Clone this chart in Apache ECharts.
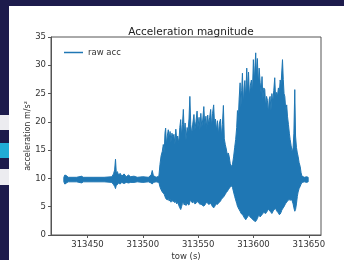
<!DOCTYPE html>
<html>
<head>
<meta charset="utf-8">
<script src="https://cdn.jsdelivr.net/npm/echarts@6/dist/echarts.min.js"></script>
<style>
  html, body { margin: 0; padding: 0; background: #1d1b4c; }
  #chart { width: 344px; height: 260px; }
</style>
</head>
<body>
<div id="chart"></div>
<script>
// time of week (s), with upper / lower envelope of the acceleration trace
var tow = [
  313428.6, 313429.5, 313431.0, 313432.5, 313440, 313445, 313446, 313455, 313465, 313472,
  313473.5, 313474.5, 313475.3, 313476.0, 313477, 313478, 313479.5, 313481, 313483, 313485,
  313487, 313489, 313492, 313495, 313500, 313505, 313507.5, 313508.5, 313509.5, 313512,
  313514.5,
  313515.5, 313516.5, 313517.6, 313518.5, 313519.3, 313520.0, 313520.6, 313521.3, 313522.1, 313523.0,
  313523.8, 313524.6, 313525.4, 313526.3, 313527.2, 313528.1, 313529.0, 313529.8, 313530.6, 313531.5,
  313532.5, 313533.4, 313534.2, 313535.0, 313535.8, 313536.6, 313537.4, 313538.2, 313539.0, 313540.0,
  313540.8, 313541.7, 313542.5, 313543.3, 313544.2, 313545.2, 313546.2, 313547.0, 313548.0, 313549.0,
  313549.8, 313550.8, 313551.6, 313552.4, 313553.3, 313554.2, 313555.1, 313556.0, 313557.0, 313557.8,
  313558.6, 313559.5, 313560.4, 313561.3, 313562.2, 313563.0, 313564.0, 313564.8, 313565.6, 313566.5,
  313567.4, 313568.3, 313569.2, 313570.2, 313571.0, 313571.9, 313572.8, 313573.6, 313574.5, 313575.4,
  313576.3, 313577.2, 313578.0, 313579.0, 313580.0, 313581.0,
  313582.0, 313583.0, 313583.9, 313584.8, 313585.5, 313586.2, 313587.0, 313587.9, 313588.6, 313589.3,
  313590.0, 313590.8, 313591.5, 313592.2, 313593.0, 313593.9, 313594.7, 313595.5, 313596.3, 313597.2,
  313598.1, 313599.0, 313599.9, 313600.7, 313601.4, 313602.0, 313602.7, 313603.5, 313604.3, 313605.1,
  313606.0, 313606.9, 313607.7, 313608.5, 313609.3, 313610.2, 313611.0, 313611.8, 313612.6, 313613.4,
  313614.2, 313615.0, 313615.8, 313616.6, 313617.4, 313618.3, 313619.2, 313620.0, 313620.8, 313621.6,
  313622.5, 313623.3, 313624.1, 313624.9, 313625.6, 313626.2, 313626.9, 313627.6, 313628.3, 313629.2,
  313630.0, 313630.7, 313631.6, 313632.4, 313633.1, 313634.0, 313635.0, 313635.8, 313636.5, 313637.3,
  313638.0, 313638.8, 313639.6, 313640.3, 313641.2, 313642.2, 313643.0, 313643.8, 313646.0, 313648.0,
  313649.4
];
var accHigh = [
  10.2, 10.6, 10.5, 10.2, 10.2, 10.4, 10.2, 10.2, 10.2, 10.3,
  10.8, 11.5, 13.4, 11.0, 11.2, 10.6, 10.9, 10.4, 10.8, 10.3,
  10.6, 10.3, 10.4, 10.2, 10.3, 10.2, 10.6, 11.4, 10.5, 10.2,
  10.4,
  12.5, 14.0, 14.8, 16.0, 14.5, 18.0, 18.9, 16.0, 17.5, 18.6,
  17.0, 18.3, 16.5, 18.0, 17.3, 17.8, 16.0, 18.7, 16.8, 17.5,
  16.2, 19.0, 20.4, 17.5, 19.5, 22.2, 18.0, 19.8, 16.8, 19.0,
  18.2, 20.5, 24.5, 19.5, 17.8, 19.8, 21.3, 18.5, 20.0, 21.9,
  19.0, 20.8, 18.5, 21.5, 19.0, 20.5, 22.7, 19.3, 21.0, 18.8,
  21.2, 19.5, 20.8, 22.2, 19.0, 21.5, 23.0, 19.5, 20.5, 18.5,
  20.2, 17.8, 19.8, 20.5, 17.5, 19.5, 22.9, 17.0, 16.0, 15.2,
  14.2, 14.5, 13.9, 12.6, 12.1, 12.5,
  13.8, 15.5, 16.9, 19.0, 22.0, 20.0, 24.0, 26.9, 22.5, 25.5,
  28.6, 23.0, 26.0, 27.3, 24.0, 29.5, 25.0, 28.8, 24.5, 26.5,
  27.4, 25.0, 31.0, 27.0, 30.0, 32.2, 28.0, 31.2, 26.5, 29.5,
  27.0, 25.0, 28.0, 24.0, 26.0, 25.7, 22.5, 24.5, 23.8, 21.5,
  24.0, 24.5, 22.0, 25.0, 23.5, 25.5, 27.8, 24.0, 25.2, 24.5,
  26.0, 25.0, 27.4, 26.5, 29.0, 31.0, 27.5, 25.0, 24.5, 22.0,
  23.0, 21.0, 19.5, 18.0, 16.9, 15.8, 14.5, 15.5, 18.0, 25.7,
  17.5, 15.5, 14.5, 13.9, 12.8, 12.1, 11.0, 10.4, 10.2, 10.3,
  10.2
];
var accLow = [
  9.4, 9.0, 9.2, 9.4, 9.4, 9.2, 9.4, 9.4, 9.4, 9.3,
  8.9, 8.6, 8.2, 8.8, 8.9, 9.2, 9.0, 9.3, 9.1, 9.3,
  9.2, 9.3, 9.3, 9.4, 9.3, 9.4, 9.2, 9.0, 9.3, 9.4,
  9.3,
  8.5, 8.0, 7.6, 7.4, 7.2, 6.8, 6.5, 6.3, 6.2, 6.5,
  6.0, 6.3, 5.8, 6.2, 5.9, 6.0, 5.7, 6.1, 5.5, 5.8,
  5.2, 4.8, 4.5, 5.0, 5.6, 5.8, 5.3, 5.6, 5.2, 5.7,
  5.4, 5.3, 5.9, 6.1, 5.8, 5.7, 5.9, 5.5, 5.6, 6.0,
  5.8, 5.6, 5.4, 5.5, 5.3, 5.2, 5.1, 5.3, 5.6, 5.8,
  5.6, 5.4, 5.5, 5.6, 5.3, 5.0, 4.8, 5.0, 5.3, 5.5,
  5.4, 5.6, 5.8, 6.0, 6.3, 6.5, 6.7, 6.9, 7.2, 7.5,
  7.7, 8.0, 8.2, 8.5, 8.7, 8.4,
  7.6, 6.8, 6.2, 5.6, 5.1, 4.8, 4.5, 4.2, 3.9, 3.7,
  3.6, 3.4, 3.1, 2.9, 2.7, 3.0, 3.2, 3.5, 3.4, 3.1,
  3.0, 2.8, 2.6, 2.5, 2.4, 2.4, 2.6, 2.9, 3.3, 3.5,
  3.2, 3.4, 3.6, 3.8, 4.0, 3.9, 3.8, 4.0, 4.3, 4.5,
  4.4, 4.2, 4.0, 3.8, 4.1, 4.4, 4.6, 4.7, 4.3, 4.1,
  3.9, 3.6, 3.7, 4.0, 4.4, 4.6, 4.8, 5.0, 5.3, 5.6,
  5.8, 6.0, 6.2, 6.3, 6.1, 6.4, 6.0, 5.5, 4.8, 4.2,
  4.5, 5.5, 6.8, 7.6, 8.2, 8.6, 9.0, 9.3, 9.4, 9.3,
  9.4
];
var xTicks = [313450, 313500, 313550, 313600, 313650];

var blue = '#1f77b4';
var font = 'DejaVu Sans';

var bandData = tow.map(function(t, i) { return [t, accHigh[i], accLow[i]]; });

// the raw trace oscillates so densely it reads as a band between the envelopes
function renderBand(params, api) {
    if (params.dataIndex !== 0) return null;
    var pts = [];
    for (var i = 0; i < tow.length; i++) pts.push(api.coord([tow[i], accHigh[i]]));
    for (var j = tow.length - 1; j >= 0; j--) pts.push(api.coord([tow[j], accLow[j]]));
    return {
        type: 'polygon',
        shape: { points: pts },
        style: { fill: blue, stroke: blue, lineWidth: 1, lineJoin: 'miter' }
    };
}

var chart = echarts.init(document.getElementById('chart'));
chart.setOption({
    animation: false,
    backgroundColor: '#1d1b4c',
    graphic: [
        { type: 'rect', shape: { x: 9, y: 6, width: 335, height: 254 }, style: { fill: '#ffffff' }, z: -10 },
        { type: 'rect', shape: { x: 0, y: 115, width: 9, height: 15 }, style: { fill: '#ececf0' }, z: -10 },
        { type: 'rect', shape: { x: 0, y: 143, width: 9, height: 15 }, style: { fill: '#21acd6' }, z: -10 },
        { type: 'rect', shape: { x: 0, y: 169, width: 9, height: 16 }, style: { fill: '#ececf0' }, z: -10 }
    ],
    title: {
        text: 'Acceleration magnitude',
        left: 186, top: 22, textAlign: 'center',
        textStyle: { fontFamily: font, fontSize: 10.5, fontWeight: 'normal', color: '#222' }
    },
    legend: {
        data: ['raw acc'],
        left: 59, top: 43,
        icon: 'rect', itemWidth: 19, itemHeight: 1.5, itemGap: 6,
        textStyle: { fontFamily: font, fontSize: 8.5, color: '#333' }
    },
    grid: {
        left: 51, right: 23, top: 37, bottom: 25,
        outerBoundsMode: 'none',
        show: true, borderColor: '#555', borderWidth: 1, backgroundColor: 'transparent'
    },
    xAxis: {
        type: 'value',
        min: 313417, max: 313661,
        name: 'tow (s)', nameLocation: 'middle', nameGap: 17, nameMoveOverlap: false,
        nameTextStyle: { fontFamily: font, fontSize: 8.5, color: '#333' },
        axisLine: { lineStyle: { color: '#555' } },
        axisTick: { length: 3, customValues: xTicks, lineStyle: { color: '#555' } },
        axisLabel: {
            customValues: xTicks, margin: 5, fontFamily: font, fontSize: 8.5, color: '#333',
            formatter: function(v) { return String(v); }
        },
        splitLine: { show: false }
    },
    yAxis: {
        type: 'value',
        min: 0, max: 35, interval: 5,
        name: 'acceleration m/s²', nameLocation: 'middle', nameGap: 19, nameMoveOverlap: false,
        nameTextStyle: { fontFamily: font, fontSize: 8, color: '#333' },
        axisLine: { show: true, lineStyle: { color: '#555' } },
        axisTick: { show: true, length: 3, lineStyle: { color: '#555' } },
        axisLabel: { margin: 5, fontFamily: font, fontSize: 8.5, color: '#333' },
        splitLine: { show: false }
    },
    series: [
        {
            name: 'raw acc',
            type: 'custom',
            data: bandData,
            encode: { x: 0, y: [1, 2] },
            itemStyle: { color: blue },
            renderItem: renderBand
        }
    ]
});
</script>
</body>
</html>
